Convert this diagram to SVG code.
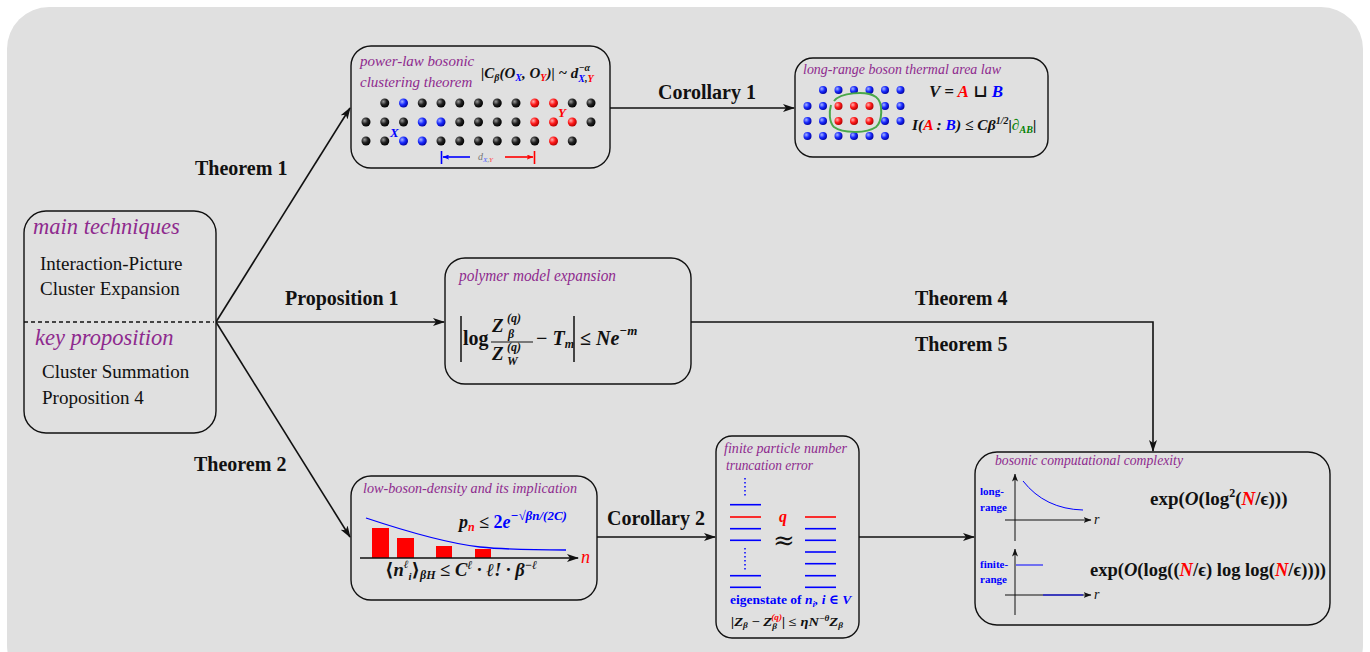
<svg xmlns="http://www.w3.org/2000/svg" width="1370" height="652" viewBox="0 0 1370 652">
<style>
.lbl{font-family:"Liberation Serif","DejaVu Serif",serif;font-weight:bold;font-size:20px;fill:#111}
.ttl{font-family:"Liberation Serif","DejaVu Serif",serif;font-style:italic;fill:#8e2a8e}
.txt{font-family:"Liberation Serif","DejaVu Serif",serif;font-size:19px;fill:#111}
.mb{font-family:"Liberation Serif","DejaVu Serif",serif;font-style:italic;font-weight:bold;fill:#111}
.mf{font-family:"Liberation Serif","DejaVu Serif",serif;font-weight:bold;fill:#111}
.sm{font-family:"Liberation Serif","DejaVu Serif",serif;font-weight:bold;font-size:11px;fill:#0000ff}
.box{fill:#e0e0e0;stroke:#111;stroke-width:1.4}
.cn{fill:none;stroke:#111;stroke-width:1.6}
.ax{fill:none;stroke:#111;stroke-width:1}
.k{fill:url(#gk)}.b{fill:url(#gb)}.r{fill:url(#gr)}
.bl{stroke:#0000ff;stroke-width:1.6}.rl{stroke:#ff0000;stroke-width:1.6}
</style>
<defs>
<radialGradient id="gk" cx="35%" cy="35%" r="70%"><stop offset="0" stop-color="#9a9a9a"/><stop offset="0.5" stop-color="#222"/><stop offset="1" stop-color="#000"/></radialGradient>
<radialGradient id="gb" cx="35%" cy="35%" r="70%"><stop offset="0" stop-color="#a8b4ff"/><stop offset="0.5" stop-color="#1a2cff"/><stop offset="1" stop-color="#0000a0"/></radialGradient>
<radialGradient id="gr" cx="35%" cy="35%" r="70%"><stop offset="0" stop-color="#ffb0b0"/><stop offset="0.5" stop-color="#ff1a1a"/><stop offset="1" stop-color="#b00000"/></radialGradient>
<marker id="ah" viewBox="0 0 12 8" refX="11" refY="4" markerWidth="12" markerHeight="8" markerUnits="userSpaceOnUse" orient="auto"><path d="M0,0 L12,4 L0,8 L3,4 z" fill="#111"/></marker>
<marker id="sa" viewBox="0 0 8 6" refX="7.5" refY="3" markerWidth="8" markerHeight="6" markerUnits="userSpaceOnUse" orient="auto"><path d="M0,0 L8,3 L0,6 L2,3 z" fill="#111"/></marker>
<marker id="ba" viewBox="0 0 8 6" refX="7.5" refY="3" markerWidth="7" markerHeight="5" markerUnits="userSpaceOnUse" orient="auto"><path d="M0,0 L8,3 L0,6 L2,3 z" fill="#0000ff"/></marker>
<marker id="ra" viewBox="0 0 8 6" refX="7.5" refY="3" markerWidth="7" markerHeight="5" markerUnits="userSpaceOnUse" orient="auto"><path d="M0,0 L8,3 L0,6 L2,3 z" fill="#ff0000"/></marker>
</defs>
<rect x="0" y="0" width="1370" height="652" fill="#ffffff"/>
<rect x="7" y="7" width="1356" height="680" rx="42" fill="#e0e0e0"/>

<g id="connectors">
<path class="cn" d="M216,322 L350,108" marker-end="url(#ah)"/>
<path class="cn" d="M216,322 L444,322" marker-end="url(#ah)"/>
<path class="cn" d="M216,322 L350,537" marker-end="url(#ah)"/>
<path class="cn" d="M610,108 L794,108" marker-end="url(#ah)"/>
<path class="cn" d="M691,322 L1153,322 L1153,451" marker-end="url(#ah)"/>
<path class="cn" d="M597,537 L715,537" marker-end="url(#ah)"/>
<path class="cn" d="M859,537 L974,537" marker-end="url(#ah)"/>
<text class="lbl" x="195" y="175" font-size="20.5">Theorem 1</text>
<text class="lbl" x="285" y="305" font-size="20.5">Proposition 1</text>
<text class="lbl" x="194" y="471" font-size="20.5">Theorem 2</text>
<text class="lbl" x="658" y="99" font-size="16">Corollary 1</text>
<text class="lbl" x="915" y="305" font-size="20.5">Theorem 4</text>
<text class="lbl" x="915" y="351" font-size="20.5">Theorem 5</text>
<text class="lbl" x="607" y="525" font-size="20.5">Corollary 2</text>
</g>

<g id="main-techniques">
<rect class="box" x="24" y="211" width="192" height="222" rx="22"/>
<line x1="24" y1="322" x2="214" y2="322" stroke="#111" stroke-width="1.3" stroke-dasharray="4,3"/>
<text class="ttl" x="33" y="234" font-size="22.5">main techniques</text>
<text class="txt" x="40" y="270">Interaction-Picture</text>
<text class="txt" x="40" y="295">Cluster Expansion</text>
<text class="ttl" x="35" y="345" font-size="22.5">key proposition</text>
<text class="txt" x="42" y="378">Cluster Summation</text>
<text class="txt" x="42" y="404">Proposition 4</text>
</g>

<g id="clustering">
<rect class="box" x="351" y="46" width="259" height="122" rx="20"/>
<text class="ttl" x="360" y="66" font-size="15">power-law bosonic</text>
<text class="ttl" x="360" y="87" font-size="15">clustering theorem</text>
<text class="mb" x="481" y="78" font-size="15">|C<tspan font-size="10" dy="3">β</tspan><tspan dy="-3">(O</tspan><tspan font-size="10" dy="3" fill="#0000ff">X</tspan><tspan dy="-3">, O</tspan><tspan font-size="10" dy="3" fill="#ff0000">Y</tspan><tspan dy="-3">)| ~ d</tspan><tspan font-size="10" dy="4" fill="#0000ff">X</tspan><tspan font-size="10">,</tspan><tspan font-size="10" fill="#ff0000">Y</tspan><tspan font-size="10" dx="-15" dy="-11">−α</tspan></text>
<g>
<circle class="k" cx="384.75" cy="103" r="4.5"/><circle class="b" cx="403.5" cy="103" r="4.5"/><circle class="k" cx="422.25" cy="103" r="4.5"/><circle class="k" cx="441" cy="103" r="4.5"/><circle class="k" cx="459.75" cy="103" r="4.5"/><circle class="k" cx="478.5" cy="103" r="4.5"/><circle class="k" cx="497.25" cy="103" r="4.5"/><circle class="k" cx="516" cy="103" r="4.5"/><circle class="r" cx="534.75" cy="103" r="4.5"/><circle class="r" cx="553.5" cy="103" r="4.5"/><circle class="k" cx="572.25" cy="103" r="4.5"/><circle class="k" cx="591" cy="103" r="4.5"/>
<circle class="k" cx="366" cy="122" r="4.5"/><circle class="k" cx="384.75" cy="122" r="4.5"/><circle class="k" cx="403.5" cy="122" r="4.5"/><circle class="b" cx="422.25" cy="122" r="4.5"/><circle class="b" cx="441" cy="122" r="4.5"/><circle class="k" cx="459.75" cy="122" r="4.5"/><circle class="k" cx="478.5" cy="122" r="4.5"/><circle class="k" cx="497.25" cy="122" r="4.5"/><circle class="k" cx="516" cy="122" r="4.5"/><circle class="r" cx="534.75" cy="122" r="4.5"/><circle class="r" cx="553.5" cy="122" r="4.5"/><circle class="r" cx="572.25" cy="122" r="4.5"/><circle class="k" cx="591" cy="122" r="4.5"/>
<circle class="k" cx="366" cy="141" r="4.5"/><circle class="k" cx="384.75" cy="141" r="4.5"/><circle class="b" cx="403.5" cy="141" r="4.5"/><circle class="b" cx="422.25" cy="141" r="4.5"/><circle class="k" cx="441" cy="141" r="4.5"/><circle class="k" cx="459.75" cy="141" r="4.5"/><circle class="k" cx="478.5" cy="141" r="4.5"/><circle class="k" cx="497.25" cy="141" r="4.5"/><circle class="k" cx="516" cy="141" r="4.5"/><circle class="k" cx="534.75" cy="141" r="4.5"/><circle class="r" cx="553.5" cy="141" r="4.5"/><circle class="k" cx="572.25" cy="141" r="4.5"/>
</g>
<text class="mb" x="390" y="137" font-size="13" style="fill:#0000ff">X</text>
<text class="mb" x="558" y="117" font-size="13" style="fill:#ff0000">Y</text>
<line class="bl" x1="441.5" y1="151" x2="441.5" y2="164"/>
<line class="rl" x1="534.5" y1="151" x2="534.5" y2="164"/>
<line class="bl" x1="470" y1="157" x2="443" y2="157" marker-end="url(#ba)"/>
<line class="rl" x1="505" y1="157" x2="533" y2="157" marker-end="url(#ra)"/>
<text x="478" y="160" font-family="Liberation Serif,serif" font-style="italic" font-size="10" fill="#777">d<tspan font-size="7" dy="2" fill="#4a5cff">X</tspan><tspan font-size="7" fill="#777">,</tspan><tspan font-size="7" fill="#ff4a4a">Y</tspan></text>
</g>

<g id="area-law">
<rect class="box" x="795" y="58" width="253" height="99" rx="18"/>
<text class="ttl" x="803" y="74" font-size="14" textLength="198" lengthAdjust="spacingAndGlyphs">long-range boson thermal area law</text>
<g>
<circle class="b" cx="823" cy="90" r="4"/><circle class="b" cx="838.5" cy="90" r="4"/><circle class="b" cx="854" cy="90" r="4"/><circle class="b" cx="869.5" cy="90" r="4"/><circle class="b" cx="885" cy="90" r="4"/><circle class="b" cx="900.5" cy="90" r="4"/>
<circle class="b" cx="807.5" cy="106" r="4"/><circle class="b" cx="823" cy="106" r="4"/><circle class="r" cx="838.5" cy="106" r="4"/><circle class="r" cx="854" cy="106" r="4"/><circle class="r" cx="869.5" cy="106" r="4"/><circle class="b" cx="885" cy="106" r="4"/><circle class="b" cx="900.5" cy="106" r="4"/>
<circle class="b" cx="807.5" cy="121" r="4"/><circle class="b" cx="823" cy="121" r="4"/><circle class="r" cx="838.5" cy="121" r="4"/><circle class="r" cx="854" cy="121" r="4"/><circle class="r" cx="869.5" cy="121" r="4"/><circle class="b" cx="885" cy="121" r="4"/><circle class="b" cx="900.5" cy="121" r="4"/>
<circle class="b" cx="807.5" cy="136" r="4"/><circle class="b" cx="823" cy="136" r="4"/><circle class="b" cx="838.5" cy="136" r="4"/><circle class="b" cx="854" cy="136" r="4"/><circle class="b" cx="869.5" cy="136" r="4"/><circle class="b" cx="885" cy="136" r="4"/>
</g>
<path d="M834,101 C840,93 866,90 876,97 C884,103 882,122 876,127 C866,134 842,133 834,127 C829,122 829,112 831,105" fill="none" stroke="#4aa84a" stroke-width="2"/>
<text class="mb" x="929" y="97" font-size="17">V = <tspan fill="#ff0000">A</tspan><tspan font-style="normal"> ⊔ </tspan><tspan fill="#0000ff">B</tspan></text>
<text class="mb" x="912" y="130" font-size="15.5">I(<tspan fill="#ff0000">A</tspan> : <tspan fill="#0000ff">B</tspan>) ≤ Cβ<tspan font-size="10" dy="-6">1/2</tspan><tspan dy="6">|</tspan><tspan fill="#008000">∂</tspan><tspan fill="#008000" font-size="10" dy="3">AB</tspan><tspan dy="-3">|</tspan></text>
</g>

<g id="polymer">
<rect class="box" x="445" y="258" width="246" height="126" rx="20"/>
<text class="ttl" x="459" y="281" font-size="16" textLength="157" lengthAdjust="spacingAndGlyphs">polymer model expansion</text>
<line x1="461" y1="316" x2="461" y2="362" stroke="#111" stroke-width="1.5"/>
<line x1="574" y1="316" x2="574" y2="362" stroke="#111" stroke-width="1.5"/>
<text class="mf" x="463" y="345" font-size="20">log</text>
<text class="mb" x="492" y="332" font-size="19">Z</text>
<text class="mb" x="507" y="322" font-size="12">(q)</text>
<text class="mb" x="508" y="338" font-size="12">β</text>
<line x1="491" y1="342" x2="533" y2="342" stroke="#111" stroke-width="1"/>
<text class="mb" x="492" y="360" font-size="19">Z</text>
<text class="mb" x="507" y="351" font-size="12">(q)</text>
<text class="mb" x="507" y="365" font-size="12">W</text>
<text class="mb" x="536" y="345" font-size="20"><tspan font-style="normal">−</tspan> T<tspan font-size="12" dy="3">m</tspan></text>
<text class="mb" x="580" y="345" font-size="20"><tspan font-style="normal">≤</tspan> Ne<tspan font-size="13" dy="-10">−m</tspan></text>
</g>

<g id="low-density">
<rect class="box" x="351" y="476" width="246" height="124" rx="20"/>
<text class="ttl" x="363" y="493" font-size="14" textLength="214" lengthAdjust="spacingAndGlyphs">low-boson-density and its implication</text>
<rect x="372" y="528" width="17" height="30" fill="#ff0000"/>
<rect x="397" y="538" width="17" height="20" fill="#ff0000"/>
<rect x="436" y="546" width="16" height="12" fill="#ff0000"/>
<rect x="475" y="549" width="16" height="9" fill="#ff0000"/>
<path d="M366,518 C405,531 445,543 480,547 C510,550 540,550 566,550" fill="none" stroke="#0000ff" stroke-width="1.3"/>
<line x1="360" y1="558" x2="578" y2="558" stroke="#111" stroke-width="1.3" marker-end="url(#ah)"/>
<text x="581" y="563" font-family="Liberation Serif,serif" font-style="italic" font-size="18" fill="#ff0000">n</text>
<text class="mb" x="459" y="528" font-size="18">p<tspan font-size="12" dy="3" fill="#ff0000">n</tspan><tspan dy="-3" font-style="normal"> ≤ </tspan><tspan fill="#0000ff" font-style="normal">2</tspan><tspan fill="#0000ff">e</tspan><tspan fill="#0000ff" font-size="13" dy="-8">−√βn/(2C)</tspan></text>
<text class="mb" x="385" y="576" font-size="18.5"><tspan font-style="normal">⟨</tspan>n<tspan font-size="11" dy="-8">ℓ</tspan><tspan font-size="11" dy="12">i</tspan><tspan font-style="normal" dy="-4">⟩</tspan><tspan font-size="12" dy="3">βH</tspan><tspan dy="-3" font-style="normal"> ≤ </tspan>C<tspan font-size="12" dy="-7">ℓ</tspan><tspan dy="7"> · ℓ! · β</tspan><tspan font-size="12" dy="-7">−ℓ</tspan></text>
</g>

<g id="truncation">
<rect class="box" x="716" y="436" width="143" height="202" rx="16"/>
<text class="ttl" x="724" y="453" font-size="15" textLength="123" lengthAdjust="spacingAndGlyphs">finite particle number</text>
<text class="ttl" x="726" y="470" font-size="15" textLength="87" lengthAdjust="spacingAndGlyphs">truncation error</text>
<line x1="745" y1="478" x2="745" y2="498" stroke="#0000ff" stroke-width="1.5" stroke-dasharray="1.5,2.5"/>
<line x1="745" y1="548" x2="745" y2="570" stroke="#0000ff" stroke-width="1.5" stroke-dasharray="1.5,2.5"/>
<line class="bl" x1="730" y1="504.7" x2="761" y2="504.7"/>
<line class="rl" x1="730" y1="517" x2="761" y2="517"/>
<line class="bl" x1="730" y1="528.7" x2="761" y2="528.7"/>
<line class="bl" x1="730" y1="540.3" x2="761" y2="540.3"/>
<line class="bl" x1="730" y1="575.7" x2="761" y2="575.7"/>
<line class="bl" x1="730" y1="587.3" x2="761" y2="587.3"/>
<line class="rl" x1="805" y1="517" x2="836" y2="517"/>
<line class="bl" x1="805" y1="528.7" x2="836" y2="528.7"/>
<line class="bl" x1="805" y1="540.3" x2="836" y2="540.3"/>
<line class="bl" x1="805" y1="552" x2="836" y2="552"/>
<line class="bl" x1="805" y1="563.7" x2="836" y2="563.7"/>
<line class="bl" x1="805" y1="575.7" x2="836" y2="575.7"/>
<line class="bl" x1="805" y1="587.3" x2="836" y2="587.3"/>
<text class="mb" x="779" y="522" font-size="16" style="fill:#ff0000">q</text>
<text x="773" y="549" font-family="DejaVu Serif,serif" font-size="26" fill="#111">≈</text>
<text class="mf" x="730" y="604" font-size="13.5" style="fill:#0000ff">eigenstate of <tspan font-style="italic">n<tspan font-size="9" dy="3">i</tspan><tspan dy="-3">, i ∈ V</tspan></tspan></text>
<text class="mb" x="731" y="626" font-size="12.5" textLength="112" lengthAdjust="spacingAndGlyphs">|Z<tspan font-size="8" dy="2">β</tspan><tspan dy="-2" font-style="normal"> − </tspan>Z<tspan font-size="8" dy="3">β</tspan><tspan font-size="8" dx="-5" dy="-9" fill="#ff0000">(q)</tspan><tspan dy="6">| </tspan><tspan font-style="normal">≤</tspan> ηN<tspan font-size="8" dy="-5">−θ</tspan><tspan dy="5">Z</tspan><tspan font-size="8" dy="2">β</tspan></text>
</g>

<g id="complexity">
<rect class="box" x="975" y="452" width="355" height="173" rx="22"/>
<text class="ttl" x="995" y="465" font-size="14" textLength="188" lengthAdjust="spacingAndGlyphs">bosonic computational complexity</text>
<line class="ax" x1="1015" y1="541" x2="1015" y2="474" marker-end="url(#sa)"/>
<line class="ax" x1="1005" y1="520" x2="1091" y2="520" marker-end="url(#sa)"/>
<path d="M1023,481 Q1045,509 1083,510" fill="none" stroke="#0000ff" stroke-width="1"/>
<text x="1094" y="524" font-family="Liberation Serif,serif" font-style="italic" font-size="14" fill="#111">r</text>
<text class="sm" x="980" y="495">long-</text>
<text class="sm" x="980" y="511">range</text>
<line class="ax" x1="1015" y1="615" x2="1015" y2="549" marker-end="url(#sa)"/>
<line class="ax" x1="1005" y1="595" x2="1091" y2="595" marker-end="url(#sa)"/>
<line x1="1016" y1="565" x2="1043" y2="565" stroke="#0000ff" stroke-width="1"/>
<line x1="1043" y1="595" x2="1083" y2="595" stroke="#0000ff" stroke-width="1"/>
<text x="1094" y="599" font-family="Liberation Serif,serif" font-style="italic" font-size="14" fill="#111">r</text>
<text class="sm" x="980" y="568">finite-</text>
<text class="sm" x="980" y="583">range</text>
<text class="mf" x="1150" y="505" font-size="19">exp(<tspan font-style="italic">O</tspan>(log<tspan font-size="12" dy="-8">2</tspan><tspan dy="8">(</tspan><tspan fill="#ff0000" font-style="italic">N</tspan>/ϵ)))</text>
<text class="mf" x="1090" y="576" font-size="18" textLength="236" lengthAdjust="spacingAndGlyphs">exp(<tspan font-style="italic">O</tspan>(log((<tspan fill="#ff0000" font-style="italic">N</tspan>/ϵ) log log(<tspan fill="#ff0000" font-style="italic">N</tspan>/ϵ))))</text>
</g>
</svg>
